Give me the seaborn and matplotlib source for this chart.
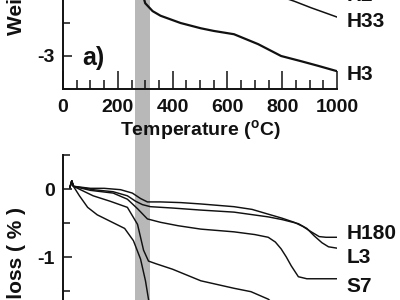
import matplotlib
matplotlib.use("Agg")
import matplotlib.pyplot as plt
import seaborn as sns
import pandas as pd
from matplotlib.ticker import MultipleLocator

# ---------------- data ----------------
# panel a) (top) : weight loss vs temperature
h3_T = [25, 100, 200, 250, 275, 290, 300, 327, 356, 429, 503, 550, 624, 712, 796, 870, 932, 1000]
h3_w = [0.0, -0.1, -0.3, -0.8, -1.6, -2.05, -2.2, -2.32, -2.39, -2.5, -2.58, -2.62, -2.67, -2.82, -3.0, -3.08, -3.15, -3.23]
h33_T = [500, 600, 700, 780, 844, 906, 960, 1000]
h33_w = [-1.5, -1.8, -1.95, -2.08, -2.17, -2.27, -2.35, -2.41]
h2_T = [600, 800, 1000]
h2_w = [-1.6, -1.85, -2.0]

# panel b) (bottom)
h180_T = [25, 32, 38, 100, 150, 210, 253, 283, 308, 356, 430, 503, 624, 690, 749, 800, 844, 875, 906, 935, 960, 1000]
h180_w = [0.02, 0.12, 0.04, 0.01, 0.01, -0.01, -0.06, -0.14, -0.19, -0.19, -0.2, -0.22, -0.26, -0.3, -0.37, -0.43, -0.49, -0.55, -0.63, -0.7, -0.71, -0.71]
l3_T = [25, 32, 38, 110, 183, 235, 265, 290, 319, 400, 503, 624, 749, 800, 859, 890, 917, 945, 969, 1000]
l3_w = [0.02, 0.12, 0.04, -0.01, -0.04, -0.1, -0.18, -0.23, -0.26, -0.28, -0.31, -0.34, -0.41, -0.45, -0.51, -0.58, -0.69, -0.79, -0.85, -0.87]
s7_T = [25, 32, 38, 100, 183, 235, 272, 308, 356, 420, 503, 624, 700, 749, 775, 796, 815, 833, 859, 890, 1000]
s7_w = [0.02, 0.12, 0.04, -0.02, -0.06, -0.15, -0.29, -0.44, -0.49, -0.54, -0.59, -0.63, -0.67, -0.71, -0.78, -0.88, -1.0, -1.13, -1.29, -1.32, -1.32]
d_T = [25, 32, 38, 110, 172, 235, 272, 294, 312, 340, 400, 503, 624, 686, 749, 800, 850]
d_w = [0.02, 0.12, 0.04, -0.1, -0.18, -0.27, -0.52, -0.9, -1.06, -1.1, -1.18, -1.35, -1.46, -1.51, -1.62, -1.8, -1.95]
e_T = [25, 32, 38, 60, 90, 125, 185, 225, 257, 283, 301, 312, 330]
e_w = [0.02, 0.12, 0.04, -0.1, -0.27, -0.38, -0.5, -0.58, -0.76, -1.03, -1.35, -1.62, -2.1]

top_labels = ["H3", "H33", "H2"]
top_label_y = [-3.28, -2.48, -2.09]
bot_labels = ["H180", "L3", "S7"]
bot_label_y = [-0.66, -1.0, -1.44]

band = [264, 319]  # highlighted temperature range (deg C)

# ---------------- style ----------------
sns.set_style("ticks")
plt.rcParams["font.family"] = ["Liberation Sans", "DejaVu Sans"]
plt.rcParams["font.weight"] = "bold"
plt.rcParams["axes.unicode_minus"] = False
plt.rcParams["mathtext.fontset"] = "custom"
plt.rcParams["mathtext.rm"] = "Liberation Sans:bold"
plt.rcParams["mathtext.it"] = "Liberation Sans:bold"
plt.rcParams["mathtext.bf"] = "Liberation Sans:bold"

ink = "#111111"
fig = plt.figure(figsize=(4, 3), dpi=100)

left, width = 63 / 400, 274 / 400
bg = fig.add_axes([left, 0, width, 1], zorder=0)
bg.set_xlim(0, 1000)
bg.axvspan(band[0], band[1], color="#b8b8b8", lw=0)
bg.axis("off")

ax1 = fig.add_axes([left, 1 - 89 / 300, width, 264 / 300], zorder=1)
ax2 = fig.add_axes([left, 1 - 359 / 300, width, 204 / 300], zorder=1)

def draw(ax, T, w, lw):
    df = pd.DataFrame({"T": T, "w": w})
    sns.lineplot(data=df, x="T", y="w", ax=ax, color=ink, lw=lw, sort=False,
                 estimator=None, legend=False)

draw(ax1, h3_T, h3_w, 1.6)
draw(ax1, h33_T, h33_w, 1.1)
draw(ax1, h2_T, h2_w, 1.1)
for T, w in [(h180_T, h180_w), (l3_T, l3_w), (s7_T, s7_w), (d_T, d_w), (e_T, e_w)]:
    draw(ax2, T, w, 1.05)

for ax, lab, ly in [(ax1, top_labels, top_label_y), (ax2, bot_labels, bot_label_y)]:
    for name, y in zip(lab, ly):
        ax.annotate(name, xy=(1000, y), xytext=(7, 0), textcoords="offset points",
                    ha="left", va="center", fontsize=15, fontweight="bold",
                    color=ink, annotation_clip=False)

ax1.set_ylim(-3.5, 0.5)
ax2.set_ylim(-2.5, 0.5)
for ax in (ax1, ax2):
    ax.set_facecolor("none")
    ax.set_xlim(0, 1000)
    sns.despine(ax=ax)
    for s in ("left", "bottom"):
        ax.spines[s].set_linewidth(1.4)
        ax.spines[s].set_color(ink)
    ax.xaxis.set_major_locator(MultipleLocator(200))
    ax.xaxis.set_minor_locator(MultipleLocator(50))
    ax.yaxis.set_major_locator(MultipleLocator(1))
    ax.yaxis.set_minor_locator(MultipleLocator(0.5))
    ax.tick_params(axis="x", which="major", direction="in", length=13, width=1.1,
                   pad=7, labelsize=14, colors=ink)
    ax.tick_params(axis="x", which="minor", direction="in", length=6.5, width=1.1, colors=ink)
    ax.tick_params(axis="y", which="major", direction="in", length=6.5, width=1.1,
                   pad=6, labelsize=14, colors=ink)
    ax.tick_params(axis="y", which="minor", direction="in", length=5, width=1.1, colors=ink)
    ax.set_xlabel("Temperature ($^{o}$C)", fontsize=14, fontweight="bold", color=ink, labelpad=2)
    ax.set_ylabel("Weight loss ( % )", fontsize=15, fontweight="bold", color=ink)

# pin the start of the top label and the end of the bottom label
ax1.yaxis.label.set_horizontalalignment("left")
ax1.yaxis.set_label_coords(-0.136, 0.205)
ax2.yaxis.label.set_horizontalalignment("right")
ax2.yaxis.set_label_coords(-0.136, 0.745)
ax1.text(70, -3.03, "a)", fontsize=18, fontweight="bold", color=ink, va="center", ha="left")
ax2.text(70, -2.3, "b)", fontsize=18, fontweight="bold", color=ink, va="center", ha="left")

fig.savefig("out.png", dpi=100)
